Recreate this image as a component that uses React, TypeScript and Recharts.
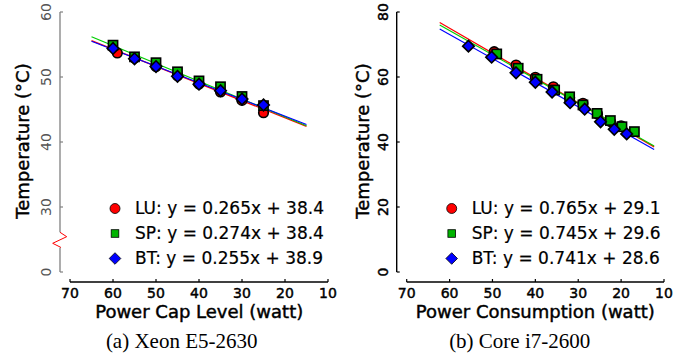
import React from 'react';
import { ComposedChart, Scatter, Line, XAxis, YAxis, Customized } from 'recharts';

const SANS = '"DejaVu Sans", sans-serif';
const SERIF = '"Liberation Serif", "Times New Roman", serif';

// ---------- data: (a) Xeon E5-2630 ----------
const xeonLuX = [59, 55, 50, 45, 40, 35, 30, 25];
const xeonLuY = [53.7, 52.9, 51.6, 50.2, 48.9, 47.7, 46.4, 44.5];
const xeonSpX = [60, 55, 50, 45, 40, 35, 30, 25];
const xeonSpY = [54.9, 53.1, 52.2, 50.8, 49.4, 48.5, 47.0, 45.6];
const xeonBtX = [60, 55, 50, 45, 40, 35, 30, 25];
const xeonBtY = [54.4, 52.8, 51.6, 50.1, 48.9, 47.9, 46.6, 45.7];
// fitted lines (end points)
const xeonFitX = [65, 15];
const xeonLuFitY = [55.6, 42.4];
const xeonSpFitY = [56.2, 42.5];
const xeonBtFitY = [55.5, 42.7];
const xeonEquations = ['LU: y = 0.265x + 38.4', 'SP: y = 0.274x + 38.4', 'BT: y = 0.255x + 38.9'];
// broken axis: the "0" tick sits one step below 30
const xeonYTicks = [20, 30, 40, 50, 60];
const xeonYTickLabels = ['0', '30', '40', '50', '60'];

// ---------- data: (b) Core i7-2600 ----------
const coreLuX = [49.6, 44.5, 40.0, 35.8, 32.0, 28.9, 25.5, 22.5, 20.0];
const coreLuY = [67.8, 63.7, 59.9, 57.0, 53.6, 51.9, 48.6, 46.3, 45.0];
const coreSpX = [49.0, 44.0, 39.6, 35.5, 32.0, 28.9, 25.6, 22.5, 19.8, 16.9];
const coreSpY = [67.1, 62.7, 59.3, 56.0, 53.9, 51.4, 48.8, 46.6, 44.7, 43.2];
const coreBtX = [55.6, 50.2, 44.5, 40.0, 36.1, 31.9, 28.5, 24.8, 21.6, 18.7];
const coreBtY = [69.5, 66.1, 61.3, 58.4, 55.4, 52.1, 50.1, 46.2, 43.9, 42.5];
const coreFitX = [62.3, 12.3];
const coreLuFitY = [76.8, 38.5];
const coreSpFitY = [76.0, 38.8];
const coreBtFitY = [74.8, 37.7];
const coreEquations = ['LU: y = 0.765x + 29.1', 'SP: y = 0.745x + 29.6', 'BT: y = 0.741x + 28.6'];
const coreYTicks = [0, 20, 40, 60, 80];
const coreYTickLabels = ['0', '20', '40', '60', '80'];

const xTicks = [70, 60, 50, 40, 30, 20, 10];
const xTickLabels = ['70', '60', '50', '40', '30', '20', '10'];

const zip = (xs: number[], ys: number[]) => xs.map((x, i) => ({ x, y: ys[i] }));

const RED = '#ff0000';
const GREEN = '#00b400';
const BLUE = '#0000ff';

const CircleShape = (p: any) => (
  <circle cx={p.cx} cy={p.cy} r={4.8} fill={RED} stroke="#000" strokeWidth={1.6} />
);
const SquareShape = (p: any) => (
  <rect x={p.cx - 4.6} y={p.cy - 4.6} width={9.2} height={9.2} fill={GREEN} stroke="#000" strokeWidth={1.6} />
);
const DiamondShape = (p: any) => (
  <path
    d={`M${p.cx},${p.cy - 5.8} L${p.cx + 5.8},${p.cy} L${p.cx},${p.cy + 5.8} L${p.cx - 5.8},${p.cy} Z`}
    fill={BLUE}
    stroke="#000"
    strokeWidth={1.6}
  />
);

const LegendMarker = ({ i, cx, cy }: { i: number; cx: number; cy: number }) => {
  if (i === 0) return <circle cx={cx} cy={cy} r={5} fill={RED} stroke="#000" strokeWidth={0.8} />;
  if (i === 1) return <rect x={cx - 3.8} y={cy - 3.8} width={7.6} height={7.6} fill={GREEN} stroke="#000" strokeWidth={0.8} />;
  return (
    <path d={`M${cx},${cy - 5.8} L${cx + 5.8},${cy} L${cx},${cy + 5.8} L${cx - 5.8},${cy} Z`} fill={BLUE} stroke="#000" strokeWidth={0.8} />
  );
};

type PanelCfg = {
  width: number;
  plotLeft: number;
  axisX0: number;
  axisX1: number;
  yDomain: [number, number];
  yTicks: number[];
  yTickLabels: string[];
  yTickColor: string;
  yTickStroke: number;
  yAxisColor: string;
  yTickMargin: number;
  broken: boolean;
  xTitle: string;
  xTitleX: number;
  caption: string;
  captionX: number;
  legendX: number;
  equations: string[];
  lu: { x: number; y: number }[];
  sp: { x: number; y: number }[];
  bt: { x: number; y: number }[];
  luFit: { x: number; y: number }[];
  spFit: { x: number; y: number }[];
  btFit: { x: number; y: number }[];
};

const PLOT_TOP = 12;
const PLOT_BOTTOM = 282;
const Y_AXIS_BOTTOM = 272;

const Decor = ({ cfg }: { cfg: PanelCfg }) => {
  const ax = cfg.plotLeft;
  return (
    <g>
      {cfg.broken ? (
        <g>
          <line x1={ax} y1={PLOT_TOP} x2={ax} y2={232.3} stroke={cfg.yAxisColor} strokeWidth={1.3} />
          <polyline
            points={`${ax},232.3 ${ax + 6.7},236.7 ${ax - 7.3},243.3 ${ax + 0.7},247.3 ${ax},247.8`}
            fill="none"
            stroke={RED}
            strokeWidth={1}
          />
          <line x1={ax} y1={247.8} x2={ax} y2={Y_AXIS_BOTTOM} stroke={cfg.yAxisColor} strokeWidth={1.3} />
        </g>
      ) : (
        <line x1={ax} y1={PLOT_TOP} x2={ax} y2={Y_AXIS_BOTTOM} stroke={cfg.yAxisColor} strokeWidth={1.4} />
      )}
      <line x1={cfg.axisX0} y1={PLOT_BOTTOM} x2={cfg.axisX1} y2={PLOT_BOTTOM} stroke="#000" strokeWidth={1.6} />
      <text
        transform={`translate(29,141) rotate(-90)`}
        textAnchor="middle"
        fontFamily={SANS}
        fontSize={18}
        fill="#000"
        stroke="#000"
        strokeWidth={0.45}
      >
        Temperature (°C)
      </text>
      <text x={cfg.xTitleX} y={318} textAnchor="middle" fontFamily={SANS} fontSize={18} fill="#000" stroke="#000" strokeWidth={0.45}>
        {cfg.xTitle}
      </text>
      <text x={cfg.captionX} y={348.3} textAnchor="middle" fontFamily={SERIF} fontSize={21} fill="#000">
        {cfg.caption}
      </text>
      {cfg.equations.map((eq, i) => (
        <g key={eq}>
          <LegendMarker i={i} cx={cfg.legendX} cy={208.5 + i * 25} />
          <text x={cfg.legendX + 20} y={213.5 + i * 25} fontFamily={SANS} fontSize={17} fill="#000" stroke="#000" strokeWidth={0.2}>
            {eq}
          </text>
        </g>
      ))}
    </g>
  );
};

const Panel = ({ cfg }: { cfg: PanelCfg }) => {
  const RotTick = (p: any) => {
    const idx = cfg.yTicks.indexOf(p.payload.value);
    return (
      <text
        transform={`translate(${p.x},${p.y}) rotate(-90)`}
        textAnchor="middle"
        fontFamily={SANS}
        fontSize={14}
        fill={cfg.yTickColor}
        stroke={cfg.yTickColor}
        strokeWidth={cfg.yTickStroke}
      >
        {cfg.yTickLabels[idx]}
      </text>
    );
  };
  return (
    <ComposedChart
      width={cfg.width}
      height={360}
      margin={{ top: PLOT_TOP, right: cfg.width - cfg.axisX1, bottom: 0, left: cfg.plotLeft - 40 }}
    >
      <XAxis
        type="number"
        dataKey="x"
        domain={[10, 72.33]}
        reversed
        allowDataOverflow
        ticks={xTicks}
        tickFormatter={(v: number) => xTickLabels[xTicks.indexOf(v)]}
        interval={0}
        axisLine={false}
        tickSize={-3}
        tickMargin={8.6}
        tickLine={{ stroke: '#000', strokeWidth: 1.2 }}
        tick={{ fontSize: 14, fontFamily: SANS, fill: '#000', stroke: '#000', strokeWidth: 0.45 }}
        height={78}
      />
      <YAxis
        type="number"
        dataKey="y"
        domain={cfg.yDomain}
        allowDataOverflow
        ticks={cfg.yTicks}
        interval={0}
        width={40}
        axisLine={false}
        tickSize={-3}
        tickMargin={cfg.yTickMargin}
        tickLine={{ stroke: cfg.yAxisColor, strokeWidth: 1.2 }}
        tick={<RotTick />}
      />
      <Scatter data={cfg.lu} shape={CircleShape} isAnimationActive={false} />
      <Scatter data={cfg.sp} shape={SquareShape} isAnimationActive={false} />
      <Scatter data={cfg.bt} shape={DiamondShape} isAnimationActive={false} />
      <Line data={cfg.luFit} dataKey="y" type="linear" stroke={RED} strokeWidth={1.2} dot={false} activeDot={false} isAnimationActive={false} />
      <Line data={cfg.spFit} dataKey="y" type="linear" stroke="#00d000" strokeWidth={1.2} dot={false} activeDot={false} isAnimationActive={false} />
      <Line data={cfg.btFit} dataKey="y" type="linear" stroke={BLUE} strokeWidth={1.2} dot={false} activeDot={false} isAnimationActive={false} />
      <Customized component={<Decor cfg={cfg} />} />
    </ComposedChart>
  );
};

const xeonCfg: PanelCfg = {
  width: 340,
  plotLeft: 60,
  axisX0: 70,
  axisX1: 328,
  yDomain: [18.4615, 60],
  yTicks: xeonYTicks,
  yTickLabels: xeonYTickLabels,
  yTickColor: '#555',
  yTickStroke: 0,
  yAxisColor: '#808080',
  yTickMargin: 12.3,
  broken: true,
  xTitle: 'Power Cap Level (watt)',
  xTitleX: 199.2,
  caption: '(a) Xeon E5-2630',
  captionX: 181.7,
  legendX: 115,
  equations: xeonEquations,
  lu: zip(xeonLuX, xeonLuY),
  sp: zip(xeonSpX, xeonSpY),
  bt: zip(xeonBtX, xeonBtY),
  luFit: zip(xeonFitX, xeonLuFitY),
  spFit: zip(xeonFitX, xeonSpFitY),
  btFit: zip(xeonFitX, xeonBtFitY),
};

const coreCfg: PanelCfg = {
  width: 353,
  plotLeft: 56.7,
  axisX0: 66.7,
  axisX1: 324,
  yDomain: [-3.0769, 80],
  yTicks: coreYTicks,
  yTickLabels: coreYTickLabels,
  yTickColor: '#000',
  yTickStroke: 0.45,
  yAxisColor: '#000',
  yTickMargin: 11.4,
  broken: false,
  xTitle: 'Power Consumption (watt)',
  xTitleX: 195.3,
  caption: '(b) Core i7-2600',
  captionX: 179.7,
  legendX: 111.7,
  equations: coreEquations,
  lu: zip(coreLuX, coreLuY),
  sp: zip(coreSpX, coreSpY),
  bt: zip(coreBtX, coreBtY),
  luFit: zip(coreFitX, coreLuFitY),
  spFit: zip(coreFitX, coreSpFitY),
  btFit: zip(coreFitX, coreBtFitY),
};

export default function App() {
  return (
    <div style={{ position: 'absolute', left: 0, top: 0, width: 693, height: 360, background: '#fff' }}>
      <div style={{ position: 'absolute', left: 0, top: 0 }}>
        <Panel cfg={xeonCfg} />
      </div>
      <div style={{ position: 'absolute', left: 340, top: 0 }}>
        <Panel cfg={coreCfg} />
      </div>
    </div>
  );
}
